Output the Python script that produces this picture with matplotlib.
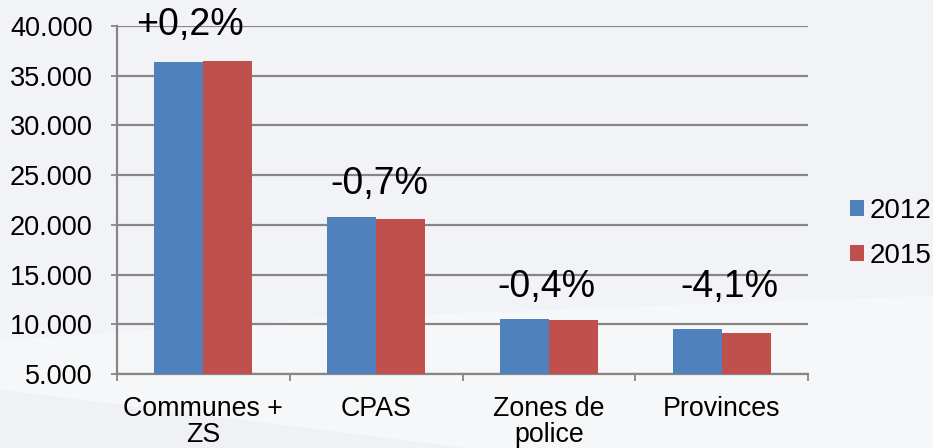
import numpy as np
import matplotlib.pyplot as plt
from matplotlib.patches import Polygon

# data
categories = ['Communes +\nZS', 'CPAS', 'Zones de\npolice', 'Provinces']
vals_2012 = [36380, 20790, 10530, 9530]
vals_2015 = [36480, 20590, 10430, 9130]
changes = ['+0,2%', '-0,7%', '-0,4%', '-4,1%']
yticks = [5000, 10000, 15000, 20000, 25000, 30000, 35000, 40000]

plt.rcParams['font.family'] = ['Liberation Sans', 'DejaVu Sans']

bg = '#f2f3f6'
fig = plt.figure(figsize=(9.33, 4.48), dpi=100, facecolor=bg)
# light swoosh at the bottom of the slide
fig.patches.append(Polygon([(0, 0.24), (0.35, 0.29), (1, 0.34), (1, 0.0), (0, 0.0)],
                           closed=True, transform=fig.transFigure, facecolor='#f6f7f9',
                           edgecolor='none', zorder=-1))
fig.patches.append(Polygon([(0, 0.13), (0.5, 0.0), (0, 0.0)],
                           closed=True, transform=fig.transFigure, facecolor='#f0f1f4',
                           edgecolor='none', zorder=-1))

ax = fig.add_axes([117/933, 1-374/448, (808-117)/933, (374-26)/448])
ax.set_facecolor('none')

x = np.arange(len(categories))
w = 0.283
ax.bar(x - w/2, vals_2012, w, color='#4f81bd', label='2012', zorder=3)
ax.bar(x + w/2, vals_2015, w, color='#c0504d', label='2015', zorder=3)

ax.set_xlim(-0.5, len(categories) - 0.5)
ax.set_ylim(5000, 40000)
ax.set_yticks(yticks)
ax.set_yticklabels(['{:,}'.format(v).replace(',', '.') for v in yticks], fontsize=19.5)
ax.yaxis.grid(True, color='#868686', linewidth=1.6, zorder=0)
ax.set_axisbelow(True)

ax.set_xticks(np.arange(len(categories) + 1) - 0.5, minor=False)
ax.set_xticklabels([])
ax.set_xticks(x, minor=True)
ax.set_xticklabels(categories, minor=True, fontsize=19.3, linespacing=1.0)
ax.tick_params(axis='x', which='major', length=5, width=1.3, color='#868686')
ax.tick_params(axis='x', which='minor', length=0, pad=16)
ax.tick_params(axis='y', length=4.5, width=1.3, color='#868686', pad=13)

for s in ['top', 'right']:
    ax.spines[s].set_visible(False)
for s in ['left', 'bottom']:
    ax.spines[s].set_color('#868686')
    ax.spines[s].set_linewidth(1.6)

# percentage change labels (hand placed, as in the original slide)
label_y = [40100, 24100, 13750, 13750]
label_dx = [-0.078, 0.02, -0.015, 0.045]
for i, (txt, ly, dx) in enumerate(zip(changes, label_y, label_dx)):
    ax.text(i + dx, ly, txt, ha='center', va='center', fontsize=27, clip_on=False)

ax.legend(loc='center left', bbox_to_anchor=(1.061, 0.405), frameon=False,
          fontsize=20, handlelength=0.5, handleheight=0.5, handletextpad=0.2,
          labelspacing=0.68, borderpad=0, borderaxespad=0)

fig.savefig('out.png', dpi=100, facecolor=bg)
